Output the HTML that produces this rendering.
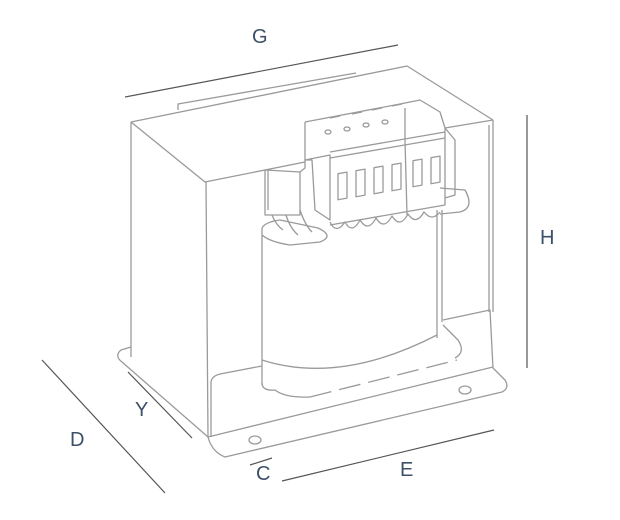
<!DOCTYPE html>
<html><head><meta charset="utf-8"><style>
html,body{margin:0;padding:0;background:#fff;}
svg{display:block}
text{font-family:"Liberation Sans",sans-serif;font-size:20px;fill:#3d5068;}
</style></head><body>
<svg width="620" height="520" viewBox="0 0 620 520" xmlns="http://www.w3.org/2000/svg">
<g fill="none" stroke="#555" stroke-width="1.2">
<line x1="125" y1="97" x2="398" y2="45"/>
<line x1="527" y1="115" x2="527" y2="368"/>
<line x1="42" y1="360" x2="165" y2="493"/>
<line x1="128" y1="372" x2="192" y2="438"/>
<line x1="250" y1="465" x2="272" y2="458"/>
<line x1="282" y1="481" x2="494" y2="430"/>
</g>
<g fill="none" stroke="#9a9a9a" stroke-width="1.3" stroke-linejoin="round">
<!-- top face -->
<path d="M131,122 L407,66 L493,120"/>
<path d="M131,122 L205,182 L305,162"/>
<path d="M445,128 L493,120"/>
<path d="M178,110 L178,104 L356,73"/>
<!-- left side -->
<line x1="131" y1="122" x2="131" y2="357"/>
<line x1="206" y1="182" x2="208" y2="437"/>
<!-- right edge -->
<line x1="493" y1="120" x2="493" y2="312"/>
<line x1="489" y1="125" x2="489" y2="312"/>
<!-- base -->
<path d="M131,347 L121,350 Q114,356 122,362 L208,437"/>
<path d="M208,437 L493,367"/>
<path d="M208,437 Q212,452 225,457 L502,392 Q510,388 505,380 L493,368 L490,310 L443,320"/>
<path d="M211,437 L211,382 Q212,376 220,374 L262,366"/>
<path d="M443,325 L458,340 Q466,352 455,358"/>
<path d="M262,383 Q262,391 275,390 Q285,398 310,397" />
<path d="M310,397 L457,360" stroke-dasharray="22 8"/>
<ellipse cx="255" cy="440" rx="6" ry="4"/>
<ellipse cx="465" cy="390" rx="6" ry="4"/>
<!-- bobbin/coil -->
<line x1="262" y1="228" x2="262" y2="385"/>
<line x1="437" y1="210" x2="437" y2="338"/>
<line x1="442" y1="210" x2="442" y2="322"/>
<path d="M262,360 Q340,385 437,335"/>
<path d="M262,228 Q265,222 280,220 L318,228 Q335,236 320,242 L290,245 Q270,242 262,235"/>
<path d="M440,188 L465,190 Q475,208 460,212 L440,214"/>
<path d="M330,222 Q336,235 345,222 Q352,235 360,220 Q368,233 376,218 Q384,231 392,216 Q400,229 408,214 Q416,226 424,212 Q432,222 440,212"/>
<!-- small terminal on left -->
<path d="M265,170 L265,215 L300,215 L300,172 Z"/>
<path d="M268,170 L268,210"/>
<path d="M272,215 Q276,225 283,230 M286,215 Q290,228 298,235 M300,210 Q305,225 312,232"/>
<path d="M300,172 L305,168 L305,160"/>
<!-- terminal block -->
<path d="M305,122 L305,160 L312,160 L315,210 L330,220 L330,155 L305,160"/>
<path d="M305,122 L400,104 L420,100 L440,112 L445,128 L445,205 L330,225"/>
<path d="M330,152 L445,132"/>
<path d="M330,158 L445,138"/>
<path d="M405,108 L405,140 L407,215"/>
<path d="M445,128 L455,140 L455,195 L445,198"/>
<g>
<rect x="338" y="173" width="9" height="26" transform="skewY(-10)" transform-origin="342 186"/>
<rect x="356" y="170" width="9" height="26" transform="skewY(-10)" transform-origin="360 183"/>
<rect x="374" y="167" width="9" height="26" transform="skewY(-10)" transform-origin="378 180"/>
<rect x="392" y="164" width="9" height="26" transform="skewY(-10)" transform-origin="396 177"/>
<rect x="413" y="160" width="9" height="26" transform="skewY(-10)" transform-origin="417 173"/>
<rect x="431" y="157" width="9" height="26" transform="skewY(-10)" transform-origin="435 170"/>
</g>
<ellipse cx="328" cy="132" rx="3" ry="2"/>
<ellipse cx="347" cy="129" rx="3" ry="2"/>
<ellipse cx="366" cy="125" rx="3" ry="2"/>
<ellipse cx="385" cy="122" rx="3" ry="2"/>
<path d="M330,118 L340,116 M352,114 L362,112 M372,110 L382,108 M392,106 L402,104"/>
</g>
<text x="252" y="43">G</text>
<text x="540" y="244">H</text>
<text x="70" y="446">D</text>
<text x="135" y="416">Y</text>
<text x="256" y="480">C</text>
<text x="400" y="476">E</text>
</svg>
</body></html>
